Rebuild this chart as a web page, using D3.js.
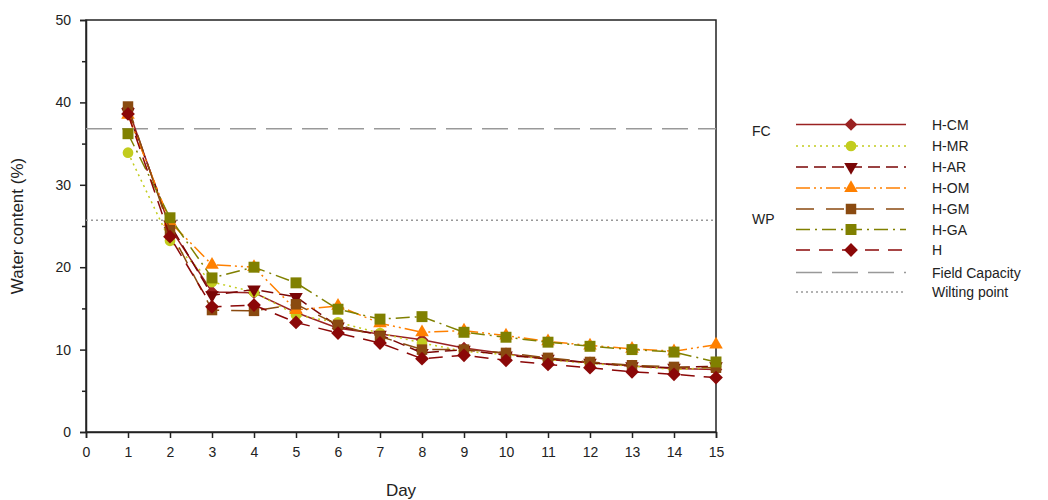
<!DOCTYPE html>
<html><head><meta charset="utf-8">
<script src="https://cdn.jsdelivr.net/npm/d3@7"></script>
<style>body{margin:0;background:#fff;} text{font-family:"Liberation Sans",Arial,sans-serif;}</style>
</head><body>
<svg id="c" width="1048" height="500"></svg>
<script>
const days = [1,2,3,4,5,6,7,8,9,10,11,12,13,14,15];
const seriesNames = ["H-CM","H-MR","H-AR","H-OM","H-GM","H-GA","H"];
const hCM = [39.3,24.8,17.0,16.9,14.5,12.6,11.9,11.2,10.2,9.5,8.8,8.4,8.0,7.7,7.6];
const hMR = [33.9,23.2,18.2,17.0,14.2,13.3,12.0,10.8,9.8,9.4,8.8,8.3,8.0,7.6,7.8];
const hAR = [38.8,25.2,16.6,17.3,16.4,12.8,11.8,9.6,10.0,9.3,8.9,8.4,8.0,7.8,8.0];
const hOM = [38.5,25.5,20.3,20.0,14.8,15.3,13.2,12.1,12.3,11.7,11.0,10.5,10.1,9.8,10.6];
const hGM = [39.5,24.5,14.8,14.7,15.5,13.0,11.6,10.0,10.0,9.6,9.0,8.5,8.1,7.9,7.8];
const hGA = [36.2,26.0,18.7,20.0,18.1,14.9,13.7,14.0,12.1,11.5,10.9,10.4,10.0,9.7,8.5];
const hH  = [38.6,23.7,15.2,15.4,13.3,12.0,10.8,8.9,9.3,8.7,8.2,7.8,7.3,7.0,6.6];
const fieldCapacity = 36.8;
const wiltingPoint = 25.7;
const xTicks = [0,1,2,3,4,5,6,7,8,9,10,11,12,13,14,15];
const yTicks = [0,10,20,30,40,50];
const yMinor = [5,15,25,35,45];

const values = [hCM,hMR,hAR,hOM,hGM,hGA,hH];
const colors = ["#9a2222","#c2cc1e","#7a0606","#ff8000","#8a4a10","#808000","#8b0808"];
const dashes = [null,"2,4","12,6","14,4,2,4,2,4","18,12","14,5,2,5","14,9"];
const symbols = ["diamond",d3.symbolCircle,"tdown",d3.symbolTriangle,d3.symbolSquare,d3.symbolSquare,"diamond"];
const sizes = [80,90,80,80,110,120,95];

const svg = d3.select("#c");
const L=86,R=716,T=20,B=432;
const x = d3.scaleLinear().domain([0,15]).range([L,R]);
const y = d3.scaleLinear().domain([0,50]).range([B,T]);

// frame
svg.append("rect").attr("x",L).attr("y",T).attr("width",R-L).attr("height",B-T)
  .attr("fill","none").attr("stroke","#222").attr("stroke-width",1.5);

// axes
svg.append("g").attr("transform",`translate(0,${B})`)
  .call(d3.axisBottom(x).tickValues(xTicks).tickSize(6).tickPadding(9).tickFormat(d3.format("d")));
svg.append("g").attr("transform",`translate(${L},0)`)
  .call(d3.axisLeft(y).tickValues(yTicks).tickSize(6).tickPadding(9).tickFormat(d3.format("d")));
svg.append("g").attr("transform",`translate(${L},0)`)
  .call(d3.axisLeft(y).tickValues(yMinor).tickSize(4).tickFormat(""))
  .select(".domain").remove();
svg.selectAll(".tick line").attr("stroke","#222").attr("stroke-width",1.5);
svg.selectAll(".domain").attr("stroke","#222").attr("stroke-width",1.5);
svg.selectAll(".tick text").attr("font-size",14).attr("fill","#222")
  .style("font-family","'Liberation Sans',Arial,sans-serif");

// reference lines
svg.append("line").attr("x1",L).attr("x2",R).attr("y1",y(fieldCapacity)).attr("y2",y(fieldCapacity))
  .attr("stroke","#999").attr("stroke-width",1.6).attr("stroke-dasharray","26,10");
svg.append("line").attr("x1",L).attr("x2",R).attr("y1",y(wiltingPoint)).attr("y2",y(wiltingPoint))
  .attr("stroke","#999").attr("stroke-width",1.4).attr("stroke-dasharray","2,3");

function symPath(s,size){
  if(s==="tdown") return d3.symbol().type(d3.symbolTriangle).size(size)();
  if(s==="diamond") return d3.symbol().type(d3.symbolSquare).size(size)();
  return d3.symbol().type(s).size(size)();
}
function addMarker(g,i,cx,cy){
  const s = symbols[i];
  const rot = s==="tdown" ? " rotate(180)" : (s==="diamond" ? " rotate(45)" : "");
  return g.append("path").attr("d",symPath(s,sizes[i])).attr("fill",colors[i])
    .attr("transform",`translate(${cx},${cy})` + rot);
}

const line = d3.line().x((d,j)=>x(days[j])).y(d=>y(d));
values.forEach((vals,i)=>{
  const g = svg.append("g");
  g.append("path").attr("d",line(vals)).attr("fill","none").attr("stroke",colors[i])
    .attr("stroke-width",1.5).attr("stroke-dasharray",dashes[i]);
  vals.forEach((v,j)=>addMarker(g,i,x(days[j]),y(v)));
});

// axis titles
svg.append("text").attr("x",401).attr("y",496).attr("text-anchor","middle").attr("font-size",17).attr("fill","#222").text("Day");
svg.append("text").attr("transform","translate(23,226) rotate(-90)").attr("text-anchor","middle").attr("font-size",17).attr("fill","#222").text("Water content (%)");

// FC / WP labels
svg.append("text").attr("x",752).attr("y",136).attr("font-size",14).attr("fill","#222").text("FC");
svg.append("text").attr("x",752).attr("y",224).attr("font-size",14).attr("fill","#222").text("WP");

// legend
const legNames = seriesNames.concat(["Field Capacity","Wilting point"]);
const legY = [124.5,146,167,188,209,229.5,250,272.5,292];
legNames.forEach((n,i)=>{
  const g = svg.append("g");
  let col, dash, w;
  if(i<7){col=colors[i];dash=dashes[i];w=1.5;}
  else if(i===7){col="#999";dash="26,10";w=1.6;}
  else {col="#999";dash="2,3";w=1.4;}
  g.append("line").attr("x1",796).attr("x2",906).attr("y1",legY[i]).attr("y2",legY[i])
    .attr("stroke",col).attr("stroke-width",w).attr("stroke-dasharray",dash);
  if(i<7) addMarker(g,i,851,legY[i]);
  g.append("text").attr("x",932).attr("y",legY[i]+5).attr("font-size",14).attr("fill","#222").text(n);
});
</script>
</body></html>
